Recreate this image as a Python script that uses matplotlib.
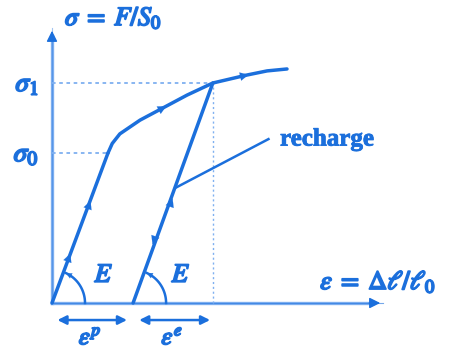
import numpy as np
import matplotlib
matplotlib.use("Agg")
import matplotlib.pyplot as plt
import matplotlib.patheffects as pe

plt.rcParams["mathtext.fontset"] = "stix"

# stress-strain diagram (arbitrary units)
eps_p = 2.45                      # permanent strain after unloading
hard_eps = [1.69, 1.82, 2.05, 2.66, 3.41, 4.08, 4.86, 5.89, 6.50, 7.10]
hard_sig = [5.45, 5.80, 6.15, 6.65, 7.13, 7.56, 8.00, 8.29, 8.44, 8.51]
sigma0 = 5.45
sigma1 = 8.00
eps1 = 4.86
load_arrows = [(0.54, 1.75), (1.15, 3.67)]
curve_arrows = [(3.41, 7.13), (5.89, 8.29)]
unload_up = [(3.63, 3.75)]
unload_down = [(3.05, 2.18)]
recharge_pt = (3.75, 4.20)
recharge_txt = (6.89, 5.96)

blue = "#1b6fdc"
light = "#7fb0f0"

fig = plt.figure(figsize=(4.52, 3.52), dpi=100)
ax = fig.add_axes([0, 0, 1, 1])
ax.set_xlim(-1.571, 12.085)
ax.set_ylim(-1.782, 11.018)
ax.axis("off")

# pixels per unit, to draw round arcs
sx = 33.1
sy = 27.5

bold = [pe.withStroke(linewidth=1.3, foreground=blue)]

# axes
ax.plot([0, 9.7], [0, 0], color=light, lw=2.4)
ax.plot([0, 0], [0, 9.7], color=light, lw=2.4)
ax.annotate("", xy=(10, 0), xytext=(9.5, 0),
            arrowprops=dict(arrowstyle="-|>", color=blue, lw=1.0, mutation_scale=16))
ax.annotate("", xy=(0, 10), xytext=(0, 9.5),
            arrowprops=dict(arrowstyle="-|>", color=blue, lw=1.0, mutation_scale=16))
ax.plot([0, 10], [0, 0], color=blue, lw=0.8, alpha=0.6)
ax.plot([0, 0], [0, 10], color=blue, lw=0.8, alpha=0.4)

# dotted guides
ax.plot([0, eps1], [sigma1, sigma1], color=light, lw=1.3, ls=(0, (2, 2)))
ax.plot([0, hard_eps[0]], [sigma0, sigma0], color=light, lw=1.3, ls=(0, (2, 2)))
ax.plot([eps1, eps1], [0, sigma1], color=light, lw=1.0, ls=(0, (1.5, 2)))

# loading, hardening, unloading
ax.plot([0, hard_eps[0]], [0, sigma0], color=blue, lw=2.5, solid_capstyle="round")
ax.plot(hard_eps, hard_sig, color=blue, lw=2.5, solid_capstyle="round",
        solid_joinstyle="round")
ax.plot([eps_p, eps1], [0, sigma1], color=blue, lw=2.5, solid_capstyle="round")


def head(x, y, dx, dy, ms=15):
    ax.annotate("", xy=(x + dx, y + dy), xytext=(x, y),
                arrowprops=dict(arrowstyle="-|>", color=blue, lw=0.1, mutation_scale=ms))


dl = np.array([hard_eps[0], sigma0]) / np.hypot(hard_eps[0], sigma0) * 0.05
for x, y in load_arrows:
    head(x, y, dl[0], dl[1])
du = np.array([eps1 - eps_p, sigma1]) / np.hypot(eps1 - eps_p, sigma1) * 0.05
for x, y in unload_up:
    head(x, y, du[0], du[1])
for x, y in unload_down:
    head(x, y, -du[0], -du[1])
for x, y in curve_arrows:
    i = np.searchsorted(hard_eps, x)
    d = np.array([hard_eps[i] - hard_eps[i - 1], hard_sig[i] - hard_sig[i - 1]])
    d = d / np.hypot(*d) * 0.05
    head(x, y, d[0], d[1])

# angle arcs for E
r = 33
for x0, (ex, ey) in [(0, (hard_eps[0], sigma0)), (eps_p, (eps1 - eps_p, sigma1))]:
    ang = np.arctan2(ey * sy, ex * sx)
    t = np.linspace(0, ang - 0.08, 40)
    ax.plot(x0 + r * np.cos(t) / sx, r * np.sin(t) / sy, color=blue, lw=1.8)
    head(x0 + r * np.cos(ang - 0.2) / sx, r * np.sin(ang - 0.2) / sy,
         (np.cos(ang) - np.cos(ang - 0.2)) * r / sx, (np.sin(ang) - np.sin(ang - 0.2)) * r / sy,
         ms=10)

ax.text(1.57, 1.02, r"$E$", color=blue, fontsize=19, ha="center", va="center", path_effects=bold)
ax.text(3.90, 1.02, r"$E$", color=blue, fontsize=19, ha="center", va="center", path_effects=bold)

# recharge annotation
ax.plot([recharge_pt[0], recharge_txt[0] - 0.35], [recharge_pt[1], recharge_txt[1]],
        color=blue, lw=1.8)
ax.text(recharge_txt[0], recharge_txt[1], "recharge", color=blue, fontsize=18,
        family="Liberation Serif", weight="bold", ha="left", va="center",
        path_effects=[pe.withStroke(linewidth=0.6, foreground=blue)])

# strain bars
ax.annotate("", xy=(0.08, -0.62), xytext=(eps_p - 0.1, -0.62),
            arrowprops=dict(arrowstyle="<|-|>", color=blue, lw=1.8, mutation_scale=13))
ax.annotate("", xy=(eps_p + 0.1, -0.62), xytext=(eps1, -0.62),
            arrowprops=dict(arrowstyle="<|-|>", color=blue, lw=1.8, mutation_scale=13))
ax.text(1.15, -1.25, r"$\varepsilon^p$", color=blue, fontsize=18, ha="center", va="center",
        path_effects=bold)
ax.text(3.63, -1.25, r"$\varepsilon^e$", color=blue, fontsize=18, ha="center", va="center",
        path_effects=bold)

# labels
ax.text(0.39, 10.36, r"$\sigma\;=\;F/S_0$", color=blue, fontsize=19, ha="left", va="center",
        path_effects=bold)
ax.text(-0.40, sigma1, r"$\sigma_1$", color=blue, fontsize=20, ha="right", va="center",
        path_effects=bold)
ax.text(-0.40, sigma0, r"$\sigma_0$", color=blue, fontsize=20, ha="right", va="center",
        path_effects=bold)
ax.text(8.1, 0.76, r"$\varepsilon\;=\;\Delta\ell/\ell_0$", color=blue, fontsize=19,
        ha="left", va="center", path_effects=bold)

fig.savefig("out.png", dpi=100)
